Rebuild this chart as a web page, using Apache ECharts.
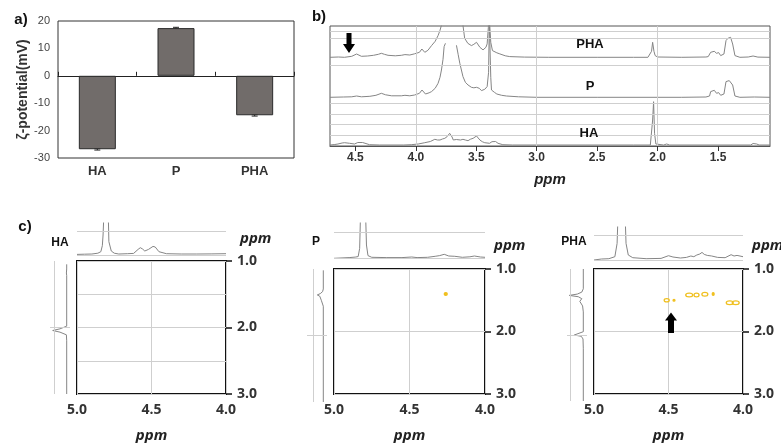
<!DOCTYPE html>
<html lang="en">
<head>
<meta charset="UTF-8">
<title>Zeta potential and NMR</title>
<style>
  html, body { margin: 0; padding: 0; background: #fff; }
  #main { width: 781px; height: 444px; }
</style>
</head>
<body>
<div id="main"></div>
<script src="https://cdn.jsdelivr.net/npm/echarts@6/dist/echarts.min.js"></script>
<script>
// a) zeta potential
const zetaCats = ['HA', 'P', 'PHA'];
const zetaValues = [-26.8, 17.4, -14.4];
const zetaErrors = [0.3, 0.3, 0.3];

// b) 1H spectra, [ppm, height above own baseline]
const spectrumPHA = [[4.71,0],[4.64,0.3],[4.59,0],[4.53,1],[4.49,3.3],[4.45,1],[4.40,1.3],[4.35,2],[4.31,3],[4.285,4],[4.26,3],[4.23,2],[4.17,1.5],[4.12,2],[4.09,2.7],[4.05,2.3],[4.01,3.5],[3.97,5],[3.95,8.3],[3.926,5],[3.90,7],[3.87,11.7],[3.84,16],[3.816,21.7],[3.80,27],[3.788,32],[3.76,50],[3.70,65],[3.64,50],[3.61,32],[3.596,19],[3.57,14],[3.54,11.7],[3.52,13],[3.498,15],[3.47,10],[3.444,7.4],[3.42,10],[3.41,13.4],[3.40,30],[3.395,45],[3.388,45],[3.38,15],[3.366,6.7],[3.33,4.5],[3.305,3.4],[3.26,1.5],[3.223,0.7],[3.1,0.2],[2.9,0],[2.5,0],[2.2,0],[2.08,0],[2.064,0.5],[2.05,6],[2.041,15],[2.03,6],[2.02,1.7],[2.0,0.3],[1.8,0],[1.6,0.3],[1.581,0.7],[1.561,5],[1.545,3.3],[1.531,6],[1.512,4],[1.495,4.7],[1.478,1.7],[1.451,3.3],[1.434,16.7],[1.418,19],[1.407,18.3],[1.396,20],[1.379,13.3],[1.36,1.7],[1.319,0],[1.25,0.3],[1.21,1.3],[1.17,0.2],[1.07,0]];
const spectrumP = [[4.71,0],[4.6,0.3],[4.53,0.5],[4.49,1.3],[4.45,0.5],[4.38,1],[4.33,2],[4.285,4],[4.25,2.5],[4.2,1.5],[4.12,1.5],[4.09,2],[4.05,1.5],[4.01,2.3],[3.97,4],[3.949,7.3],[3.92,3.3],[3.89,4.5],[3.87,5.7],[3.84,9],[3.816,14],[3.80,20],[3.788,27.3],[3.775,38],[3.766,50.7],[3.755,54],[3.71,'-'],[3.664,52],[3.65,43],[3.636,34],[3.61,20.7],[3.59,15],[3.568,12.3],[3.54,10],[3.52,9.5],[3.498,10],[3.475,9],[3.457,6.7],[3.43,8],[3.41,10.7],[3.398,25],[3.392,75],[3.386,75],[3.38,20],[3.374,7.3],[3.35,5],[3.33,3.3],[3.29,2],[3.25,1.3],[3.15,0.5],[3.0,0],[2.5,0],[2.0,0],[1.8,0],[1.6,0.3],[1.57,1.3],[1.561,5.7],[1.545,4],[1.531,7],[1.512,4],[1.495,4.7],[1.478,2],[1.451,3.3],[1.434,15.7],[1.418,17.3],[1.407,16.7],[1.396,18.3],[1.379,12.3],[1.36,1.3],[1.319,0],[1.2,0.3],[1.07,0]];
const spectrumHA = [[4.71,0],[4.67,0.5],[4.644,1],[4.61,2],[4.589,2.3],[4.548,1.7],[4.507,1],[4.48,2.5],[4.466,3.3],[4.44,2.5],[4.424,1.7],[4.383,0.3],[4.3,0],[4.1,0],[4.038,0.3],[3.98,1],[3.926,2.3],[3.88,3.5],[3.843,5.7],[3.82,5],[3.80,5],[3.78,6],[3.76,6.7],[3.74,8.5],[3.72,11.7],[3.70,8],[3.69,5],[3.665,5.5],[3.65,5.7],[3.63,5],[3.61,5.7],[3.59,5],[3.568,4.3],[3.55,5.7],[3.526,6.7],[3.498,9],[3.47,5],[3.45,3.3],[3.43,2.3],[3.39,1.7],[3.37,3.3],[3.355,4.3],[3.34,3.5],[3.32,1.7],[3.28,0.3],[3.2,0],[2.6,0],[2.2,0],[2.06,0],[2.05,2],[2.041,25],[2.033,43.3],[2.025,11.7],[2.014,1],[2.0,0.3],[1.95,0],[1.925,1],[1.9,0],[1.5,0],[1.23,0],[1.21,1.5],[1.195,2.3],[1.18,1],[1.16,0],[1.07,0]];

// c) projections, top: [ppm, height], side: [ppm, height]
const topHA = [[5.0,1.3],[4.95,1.5],[4.9,1.7],[4.86,2.5],[4.84,4],[4.83,10],[4.825,20.7],[4.82,40],[4.79,40],[4.786,14],[4.77,4.7],[4.75,2.5],[4.72,1.7],[4.66,2],[4.62,2.3],[4.59,6.3],[4.575,8],[4.56,6.7],[4.545,4.7],[4.52,6.3],[4.49,9.3],[4.475,8.7],[4.45,4],[4.40,2],[4.3,1.7],[4.2,1.7],[4.1,1.8],[4.0,2]];
const topP = [[5.0,0],[4.9,0.7],[4.86,1.2],[4.84,1.7],[4.83,10],[4.825,40],[4.79,40],[4.785,13.3],[4.775,2.7],[4.75,1],[4.65,0.7],[4.55,0.7],[4.485,1.3],[4.45,0.7],[4.38,1],[4.33,2],[4.30,2.7],[4.27,4],[4.24,2.3],[4.20,2],[4.15,1],[4.10,1.5],[4.07,2.3],[4.03,1.3],[4.0,1]];
const topPHA = [[5.0,0.7],[4.95,1.7],[4.9,2],[4.86,4],[4.845,17.3],[4.84,40],[4.79,40],[4.785,17.3],[4.77,5.7],[4.74,3],[4.65,2],[4.55,2.3],[4.50,5],[4.49,6],[4.47,3.7],[4.42,2.7],[4.38,3.3],[4.35,4.7],[4.33,4],[4.31,5.7],[4.29,6.7],[4.275,8.3],[4.26,6.3],[4.24,5.3],[4.21,4.7],[4.17,3.3],[4.12,3],[4.08,6],[4.06,4.7],[4.04,5.3],[4.0,4]];
const sideHA = [[1.05,0],[1.12,0],[1.15,1],[1.18,0.3],[1.22,0],[1.98,0],[2.02,6.7],[2.045,14],[2.07,6.7],[2.11,0.3],[2.2,0],[3.0,0]];
const sideP = [[1.02,0],[1.3,0],[1.34,0.7],[1.37,3],[1.39,6],[1.41,3.5],[1.44,1.7],[1.47,2],[1.5,0.7],[1.56,0],[3.0,0]];
const sidePHA = [[1.0,0],[1.3,0],[1.35,1.5],[1.38,6],[1.40,14],[1.42,5],[1.45,1.5],[1.49,3.5],[1.52,3],[1.56,0.7],[1.65,0],[1.95,0],[1.98,2],[2.0,9],[2.02,2],[2.06,0.3],[2.2,0],[3.0,0]];

// cross peaks [ppm x, ppm y, width ppm, height ppm]
const crossP = [[4.26, 1.40, 0.02, 0.045]];
const crossPHA = [[4.512,1.50,0.034,0.053],[4.463,1.50,0.013,0.03],[4.361,1.415,0.047,0.06],[4.312,1.415,0.034,0.06],[4.256,1.405,0.04,0.06],[4.20,1.40,0.013,0.045],[4.089,1.54,0.047,0.06],[4.049,1.54,0.047,0.06]];

const FONT = '"Liberation Sans", Arial, sans-serif';
const LINE_GRAY = '#cfcfcf';
const TRACE = '#858585';
const YELLOW = '#f0c020';

function guides(xs, ys) {
    return {
        silent: true, symbol: 'none', animation: false,
        label: { show: false },
        lineStyle: { color: LINE_GRAY, type: 'solid', width: 1 },
        data: xs.map(v => ({ xAxis: v })).concat(ys.map(v => ({ yAxis: v })))
    };
}

function trace(data, xi, yi, extra) {
    return Object.assign({
        type: 'line', xAxisIndex: xi, yAxisIndex: yi, data: data,
        showSymbol: false, symbol: 'none', silent: true, animation: false,
        lineStyle: { color: TRACE, width: 1 }
    }, extra || {});
}

const grids = [
    { left: 58, top: 21, width: 236, height: 137, show: true, borderColor: '#333', borderWidth: 1 },
    { left: 330, top: 26, width: 440, height: 120, show: true, borderColor: '#555', borderWidth: 1 }
];
const xAxes = [
    { gridIndex: 0, type: 'category', data: zetaCats, position: 'bottom',
      axisLine: { show: false, onZero: false }, axisTick: { show: false },
      axisLabel: { margin: 7, fontFamily: FONT, fontWeight: 'bold', fontSize: 13, color: '#333' } },
    { gridIndex: 0, type: 'category', data: zetaCats, position: 'bottom',
      axisLine: { show: true, onZero: true, lineStyle: { color: '#222', width: 1 } },
      axisTick: { show: true, inside: true, length: 4, lineStyle: { color: '#222' } },
      axisLabel: { show: false } },
    { gridIndex: 1, type: 'value', min: 1.07, max: 4.71, inverse: true, splitNumber: 7,
      axisLine: { show: true, lineStyle: { color: '#555' } },
      axisTick: { show: true, length: 5, lineStyle: { color: '#333' } },
      axisLabel: { margin: 6, showMinLabel: false, showMaxLabel: false,
                   formatter: v => v.toFixed(1), fontFamily: FONT, fontWeight: 'bold', fontSize: 12, color: '#333' },
      splitLine: { show: false },
      name: 'ppm', nameLocation: 'middle', nameGap: 26,
      nameTextStyle: { fontFamily: FONT, fontStyle: 'italic', fontWeight: 'bold', fontSize: 15, color: '#222' } }
];
const yAxes = [
    { gridIndex: 0, type: 'value', min: -30, max: 20, interval: 10,
      axisLine: { show: false }, axisTick: { show: false }, splitLine: { show: false },
      axisLabel: { margin: 8, fontFamily: FONT, fontSize: 11, color: '#444' },
      name: 'ζ-potential(mV)', nameLocation: 'middle', nameGap: 23,
      nameTextStyle: { fontFamily: FONT, fontWeight: 'bold', fontSize: 14, color: '#333' } },
    { gridIndex: 1, type: 'value', min: 0, max: 120, show: false }
];

const series = [
    { type: 'bar', xAxisIndex: 0, yAxisIndex: 0, data: zetaValues, barWidth: 37, silent: true, animation: false,
      itemStyle: { color: '#716c6a', borderColor: '#2b2b2b', borderWidth: 1 } },
    { type: 'custom', xAxisIndex: 0, yAxisIndex: 0, silent: true, animation: false,
      data: zetaValues.map((v, i) => [i, v - zetaErrors[i], v + zetaErrors[i]]),
      renderItem: function (params, api) {
          const lo = api.coord([api.value(0), api.value(1)]);
          const hi = api.coord([api.value(0), api.value(2)]);
          const st = { stroke: '#222', lineWidth: 1 };
          return { type: 'group', children: [
              { type: 'line', shape: { x1: lo[0], y1: lo[1], x2: hi[0], y2: hi[1] }, style: st },
              { type: 'line', shape: { x1: lo[0] - 3, y1: lo[1], x2: lo[0] + 3, y2: lo[1] }, style: st },
              { type: 'line', shape: { x1: hi[0] - 3, y1: hi[1], x2: hi[0] + 3, y2: hi[1] }, style: st }
          ] };
      } }
];

// stacked spectra in b)
const offsets = { HA: 1, P: 48.7, PHA: 88.7 };
const lift = (data, off) => data.map(p => [p[0], p[1] === '-' ? '-' : p[1] + off]);
series.push(trace(lift(spectrumHA, offsets.HA), 2, 1, {
    markLine: guides([4, 3, 2], [115, 107.5, 80.5, 42.5, 31.7, 21.7, 11])
}));
series.push(trace(lift(spectrumP, offsets.P), 2, 1));
series.push(trace(lift(spectrumPHA, offsets.PHA), 2, 1));

// c) panels
const panels = [
    { main: { left: 77, top: 261, width: 149, height: 133 },
      top: { left: 77, top: 223, width: 149, height: 34 }, topRange: [-1.3, 32.7], topLine: 24.7,
      side: { left: 50, top: 261, width: 20, height: 133 }, sideRange: [-3.3, 16.7], sideLine: 12.4,
      topData: topHA, sideData: sideHA, cross: [], minor: true },
    { main: { left: 334, top: 269, width: 151, height: 133 },
      top: { left: 334, top: 223, width: 151, height: 36.5 }, topRange: [-1.2, 35.3], topLine: 26,
      side: { left: 307, top: 269, width: 20, height: 133 }, sideRange: [-3.7, 16.3], sideLine: 10,
      topData: topP, sideData: sideP, cross: crossP, minor: false },
    { main: { left: 594, top: 269, width: 149, height: 132 },
      top: { left: 594, top: 227, width: 149, height: 35 }, topRange: [-1.3, 33.7], topLine: 25.7,
      side: { left: 567, top: 269, width: 20, height: 132 }, sideRange: [-3.7, 16.3], sideLine: 13.3,
      topData: topPHA, sideData: sidePHA, cross: crossPHA, minor: false }
];

panels.forEach(function (p) {
    const g = grids.length, xi = xAxes.length, yi = yAxes.length;
    grids.push(Object.assign({ show: true, borderColor: '#111', borderWidth: 2 }, p.main));
    grids.push(p.top);
    grids.push(p.side);

    xAxes.push({ gridIndex: g, type: 'value', min: 4, max: 5, interval: 0.5, inverse: true,
        axisLine: { show: false }, axisTick: { show: false },
        axisLabel: { margin: 9, formatter: v => v.toFixed(1), fontFamily: '"Open Sans", sans-serif', fontWeight: 'bold', fontSize: 14, color: '#333' },
        splitLine: { show: true, lineStyle: { color: LINE_GRAY } },
        name: 'ppm', nameLocation: 'middle', nameGap: 34,
        nameTextStyle: { fontFamily: '"Open Sans", sans-serif', fontStyle: 'italic', fontWeight: 'bold', fontSize: 15, color: '#222' } });
    xAxes.push({ gridIndex: g + 1, type: 'value', min: 4, max: 5, inverse: true, show: false });
    xAxes.push({ gridIndex: g + 2, type: 'value', min: p.sideRange[0], max: p.sideRange[1], inverse: true, show: false });

    yAxes.push({ gridIndex: g, type: 'value', min: 1, max: 3, interval: 1, inverse: true, position: 'right',
        axisLine: { show: false },
        axisTick: { show: true, length: 6, lineStyle: { color: '#111', width: 1.5 } },
        axisLabel: { margin: 11, formatter: v => v.toFixed(1), fontFamily: '"Open Sans", sans-serif', fontWeight: 'bold', fontSize: 14, color: '#333' },
        splitLine: { show: true, lineStyle: { color: LINE_GRAY } },
        minorTick: { show: false, splitNumber: 2 },
        minorSplitLine: { show: p.minor, lineStyle: { color: LINE_GRAY } } });
    yAxes.push({ gridIndex: g + 1, type: 'value', min: p.topRange[0], max: p.topRange[1], show: false });
    yAxes.push({ gridIndex: g + 2, type: 'value', min: 1, max: 3, inverse: true, show: false });

    series.push(trace(p.topData, xi + 1, yi + 1, { markLine: guides([], [0, p.topLine]) }));
    series.push(trace(p.sideData.map(d => [d[1], d[0]]), xi + 2, yi + 2, { markLine: guides([p.sideLine], [2]) }));
    if (p.cross.length) {
        series.push({ type: 'custom', xAxisIndex: xi, yAxisIndex: yi, data: p.cross, silent: true, animation: false,
            renderItem: function (params, api) {
                const c = api.coord([api.value(0), api.value(1)]);
                const s = api.size([api.value(2), api.value(3)]);
                const rx = Math.abs(s[0]) / 2, ry = Math.abs(s[1]) / 2;
                const dot = rx < 1.8;
                return { type: 'ellipse', shape: { cx: c[0], cy: c[1], rx: rx, ry: ry },
                         style: { fill: dot ? YELLOW : 'none', stroke: YELLOW, lineWidth: 1.3 } };
            } });
    }
});

function label(text, x, y, size, extra) {
    return { type: 'text', x: x, y: y, z: 100, silent: true,
        style: Object.assign({ text: text, fontFamily: FONT, fontWeight: 'bold', fontSize: size, fill: '#111',
                               align: 'center', verticalAlign: 'middle' }, extra || {}) };
}
const ppmStyle = { fontStyle: 'italic', align: 'left', fontFamily: '"Open Sans", sans-serif', fill: '#222' };

const chart = echarts.init(document.getElementById('main'), null, { renderer: 'canvas' });
chart.setOption({
    animation: false,
    grid: grids,
    xAxis: xAxes,
    yAxis: yAxes,
    series: series,
    graphic: [
        label('a)', 21, 20, 15),
        label('b)', 319, 17, 15),
        label('c)', 25, 227, 15),
        label('PHA', 590, 44, 13),
        label('P', 590, 86, 13),
        label('HA', 589, 133, 13),
        label('HA', 60, 243, 12),
        label('P', 316, 242, 12),
        label('PHA', 574, 242, 12),
        label('ppm', 240, 239, 15, ppmStyle),
        label('ppm', 494, 246, 15, ppmStyle),
        label('ppm', 752, 246, 15, ppmStyle),
        { type: 'polygon', z: 100, silent: true, shape: { points: [[346.5,33],[351.5,33],[351.5,44],[355,44],[349,53],[343,44],[346.5,44]] }, style: { fill: '#000' } },
        { type: 'polygon', z: 100, silent: true, shape: { points: [[671,312.5],[677,320.5],[674,320.5],[674,333],[668,333],[668,320.5],[665,320.5]] }, style: { fill: '#000' } }
    ]
});
</script>
</body>
</html>
